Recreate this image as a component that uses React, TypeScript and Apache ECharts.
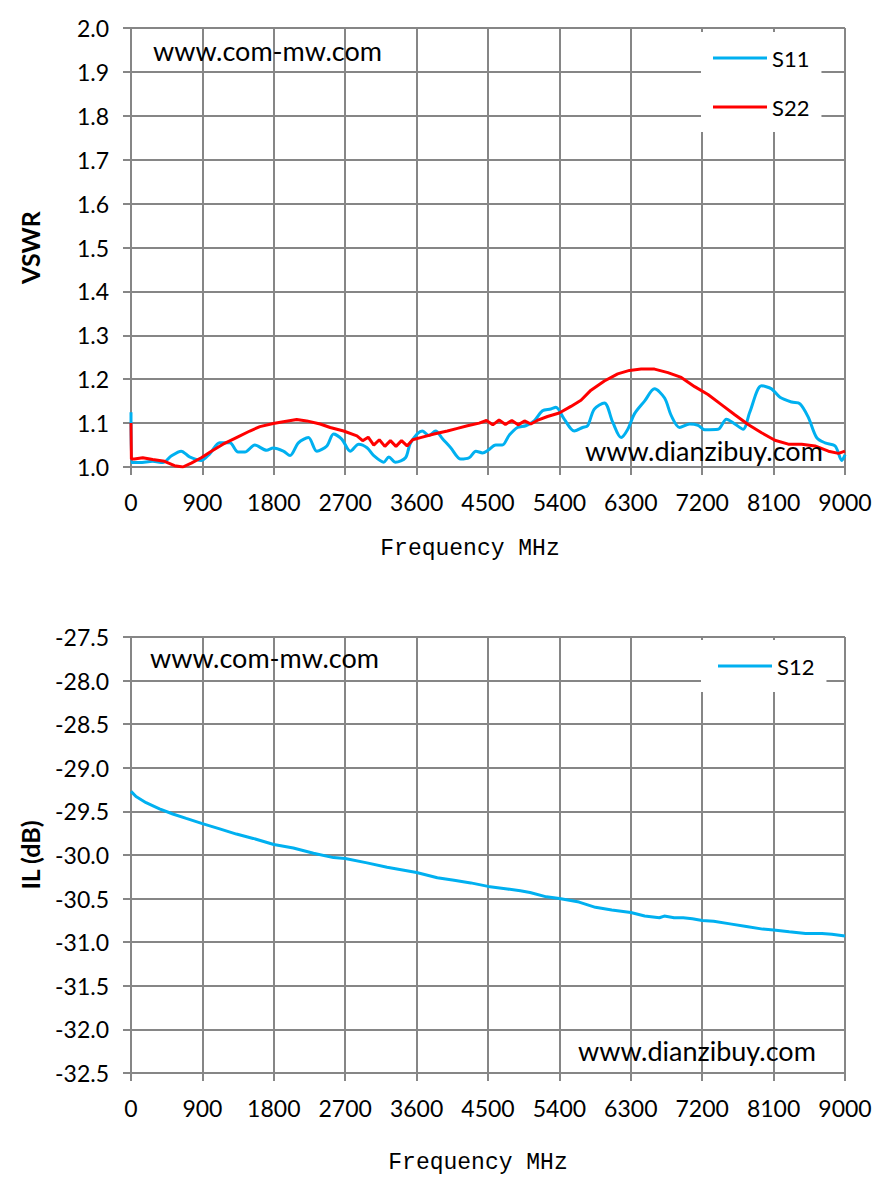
import React, { useEffect, useRef } from "react";
import * as echarts from "echarts";

const X_TICKS_MIN = 0;
const X_TICKS_MAX = 9000;
const X_INTERVAL = 900;

const S11_FREQ = [0, 5, 105, 274, 401, 506, 633, 738, 886, 992, 1118, 1245, 1350, 1435, 1561, 1709, 1793, 1920, 2005, 2110, 2236, 2342, 2469, 2553, 2659, 2764, 2870, 2975, 3060, 3186, 3250, 3334, 3460, 3524, 3671, 3756, 3840, 3924, 4030, 4157, 4262, 4347, 4431, 4500, 4597, 4681, 4766, 4871, 4976, 5082, 5187, 5292, 5356, 5461, 5587, 5693, 5756, 5840, 5967, 6072, 6178, 6262, 6346, 6473, 6599, 6726, 6810, 6915, 7042, 7147, 7231, 7400, 7505, 7611, 7716, 7800, 7948, 8074, 8180, 8327, 8433, 8538, 8643, 8749, 8876, 8960, 9000];
const S11_VSWR = [1.125, 1.01, 1.01, 1.013, 1.01, 1.025, 1.036, 1.023, 1.015, 1.03, 1.055, 1.055, 1.034, 1.034, 1.05, 1.038, 1.043, 1.036, 1.026, 1.055, 1.067, 1.036, 1.048, 1.075, 1.063, 1.036, 1.052, 1.044, 1.026, 1.011, 1.023, 1.011, 1.021, 1.055, 1.082, 1.072, 1.082, 1.065, 1.044, 1.018, 1.021, 1.036, 1.032, 1.038, 1.05, 1.05, 1.072, 1.09, 1.094, 1.105, 1.128, 1.132, 1.136, 1.109, 1.082, 1.09, 1.094, 1.132, 1.146, 1.102, 1.067, 1.086, 1.121, 1.15, 1.178, 1.157, 1.117, 1.09, 1.098, 1.095, 1.085, 1.086, 1.109, 1.098, 1.086, 1.125, 1.185, 1.178, 1.159, 1.148, 1.144, 1.113, 1.067, 1.055, 1.048, 1.015, 1.028];

const S22_FREQ = [0, 5, 42, 148, 274, 422, 549, 654, 760, 886, 1013, 1160, 1329, 1498, 1625, 1793, 1920, 2089, 2215, 2384, 2511, 2680, 2848, 2920, 2990, 3060, 3130, 3200, 3270, 3340, 3410, 3480, 3550, 3650, 3819, 3988, 4115, 4241, 4389, 4480, 4560, 4640, 4720, 4800, 4880, 4960, 5040, 5120, 5250, 5398, 5545, 5672, 5798, 5967, 6135, 6283, 6430, 6599, 6768, 6936, 7105, 7273, 7442, 7611, 7779, 7948, 8116, 8285, 8454, 8622, 8791, 8918, 9000];
const S22_VSWR = [1.1, 1.018, 1.018, 1.021, 1.017, 1.013, 1.003, 1.0, 1.009, 1.021, 1.036, 1.052, 1.067, 1.082, 1.092, 1.099, 1.103, 1.108, 1.105, 1.098, 1.09, 1.082, 1.071, 1.06, 1.068, 1.05, 1.062, 1.047, 1.06, 1.047, 1.06, 1.048, 1.062, 1.067, 1.075, 1.082, 1.088, 1.094, 1.1, 1.106, 1.096, 1.107, 1.097, 1.106, 1.096, 1.105, 1.098, 1.106, 1.115, 1.123, 1.138, 1.152, 1.175, 1.196, 1.212, 1.22, 1.223, 1.223, 1.215, 1.204, 1.183, 1.165, 1.142, 1.119, 1.097, 1.078, 1.061, 1.052, 1.052, 1.048, 1.036, 1.031, 1.036];

const S12_FREQ = [0, 63, 190, 359, 527, 696, 900, 1118, 1329, 1540, 1800, 2046, 2300, 2553, 2700, 2975, 3228, 3600, 3861, 4072, 4283, 4500, 4744, 4907, 5030, 5236, 5400, 5648, 5854, 6060, 6300, 6475, 6660, 6722, 6846, 6960, 7076, 7200, 7345, 7551, 7757, 7963, 8100, 8297, 8503, 8709, 8835, 9000];
const S12_IL = [-29.27, -29.33, -29.4, -29.47, -29.53, -29.58, -29.64, -29.7, -29.76, -29.81, -29.88, -29.92, -29.98, -30.03, -30.04, -30.09, -30.14, -30.2, -30.26, -30.29, -30.32, -30.36, -30.39, -30.41, -30.43, -30.48, -30.5, -30.54, -30.6, -30.63, -30.66, -30.7, -30.72, -30.7, -30.72, -30.72, -30.73, -30.75, -30.76, -30.79, -30.82, -30.85, -30.86, -30.88, -30.9, -30.9, -30.91, -30.93];

const VSWR_MIN = 1.0;
const VSWR_MAX = 2.0;
const VSWR_STEP = 0.1;
const IL_MIN = -32.5;
const IL_MAX = -27.5;
const IL_STEP = 0.5;

const pair = (xs: number[], ys: number[]) => xs.map((x, i) => [x, ys[i]]);

const GRID_COLOR = "#868686";
const TICK_FONT = "Lato, 'Open Sans', sans-serif";
const NAME_FONT = "'Liberation Mono', 'DejaVu Sans Mono', monospace";

export default function App() {
  const ref = useRef<HTMLDivElement>(null);
  useEffect(() => {
    if (!ref.current) return;
    const chart = echarts.init(ref.current, undefined, { renderer: "svg" });
    const xAxisBase = (gridIndex: number) => ({
      type: "value",
      gridIndex,
      min: X_TICKS_MIN,
      max: X_TICKS_MAX,
      interval: X_INTERVAL,
      axisLine: { show: true, lineStyle: { color: GRID_COLOR, width: 2 } },
      axisTick: { show: true, length: 8, inside: false, lineStyle: { color: GRID_COLOR, width: 2 } },
      splitLine: { show: true, lineStyle: { color: GRID_COLOR, width: 2 } },
      axisLabel: {
        fontFamily: TICK_FONT,
        fontSize: 23,
        color: "#000",
        margin: 23,
        formatter: (v: number) => String(v),
      },
    });
    const yAxisBase = (gridIndex: number, min: number, max: number, step: number, name: string) => ({
      type: "value",
      gridIndex,
      min,
      max,
      interval: step,
      name,
      nameLocation: "middle",
      nameGap: 89,
      nameRotate: 90,
      nameTextStyle: { fontFamily: TICK_FONT, fontSize: 25, fontWeight: "bold", color: "#000" },
      axisLine: { show: true, lineStyle: { color: GRID_COLOR, width: 2 } },
      axisTick: { show: true, length: 8, inside: false, lineStyle: { color: GRID_COLOR, width: 2 } },
      splitLine: { show: true, lineStyle: { color: GRID_COLOR, width: 2 } },
      axisLabel: {
        fontFamily: TICK_FONT,
        fontSize: 23,
        color: "#000",
        margin: 22,
        formatter: (v: number) => v.toFixed(1),
      },
    });
    const wm = (text: string, x: number, y: number) => ({
      type: "text",
      x,
      y,
      z: 10,
      style: { text, fontFamily: TICK_FONT, fontSize: 27, fill: "#000", verticalAlign: "middle" },
    });
    const axName = (text: string, x: number, y: number) => ({
      type: "text",
      x,
      y,
      z: 10,
      style: {
        text,
        fontFamily: NAME_FONT,
        fontSize: 23,
        fill: "#000",
        align: "center",
        verticalAlign: "middle",
      },
    });
    chart.setOption({
      animation: false,
      backgroundColor: "#fff",
      grid: [
        { left: 131, top: 28, width: 714, height: 439 },
        { left: 131, top: 637, width: 714, height: 436 },
      ],
      xAxis: [xAxisBase(0), xAxisBase(1)],
      yAxis: [
        yAxisBase(0, VSWR_MIN, VSWR_MAX, VSWR_STEP, "VSWR"),
        yAxisBase(1, IL_MIN, IL_MAX, IL_STEP, "IL (dB)"),
      ],
      legend: [
        {
          data: ["S11", "S22"],
          orient: "vertical",
          left: 701,
          top: 32,
          padding: [13, 12, 12, 12],
          itemGap: 23,
          itemWidth: 54,
          itemHeight: 3,
          icon: "rect",
          backgroundColor: "#fff",
          textStyle: { fontFamily: TICK_FONT, fontSize: 22, color: "#000", lineHeight: 26 },
        },
        {
          data: ["S12"],
          orient: "vertical",
          left: 701,
          top: 640,
          padding: [13, 12, 13, 17],
          itemWidth: 54,
          itemHeight: 3,
          icon: "rect",
          backgroundColor: "#fff",
          textStyle: { fontFamily: TICK_FONT, fontSize: 22, color: "#000", lineHeight: 26 },
        },
      ],
      graphic: [
        wm("www.com-mw.com", 153, 50),
        wm("www.dianzibuy.com", 585, 450),
        wm("www.com-mw.com", 150, 657),
        wm("www.dianzibuy.com", 578, 1050),
        axName("Frequency MHz", 470, 549),
        axName("Frequency MHz", 478, 1163),
      ],
      series: [
        {
          name: "S11",
          type: "line",
          xAxisIndex: 0,
          yAxisIndex: 0,
          data: pair(S11_FREQ, S11_VSWR),
          symbol: "none",
          smooth: 0.3,
          lineStyle: { color: "#00B0F0", width: 3 },
          itemStyle: { color: "#00B0F0" },
        },
        {
          name: "S22",
          type: "line",
          xAxisIndex: 0,
          yAxisIndex: 0,
          data: pair(S22_FREQ, S22_VSWR),
          symbol: "none",
          lineStyle: { color: "#FF0000", width: 3 },
          itemStyle: { color: "#FF0000" },
        },
        {
          name: "S12",
          type: "line",
          xAxisIndex: 1,
          yAxisIndex: 1,
          data: pair(S12_FREQ, S12_IL),
          symbol: "none",
          lineStyle: { color: "#00B0F0", width: 3 },
          itemStyle: { color: "#00B0F0" },
        },
      ],
    });
    return () => chart.dispose();
  }, []);
  return (
    <div
      ref={ref}
      style={{ position: "absolute", left: 0, top: 0, width: 883, height: 1191, background: "#fff" }}
    />
  );
}
